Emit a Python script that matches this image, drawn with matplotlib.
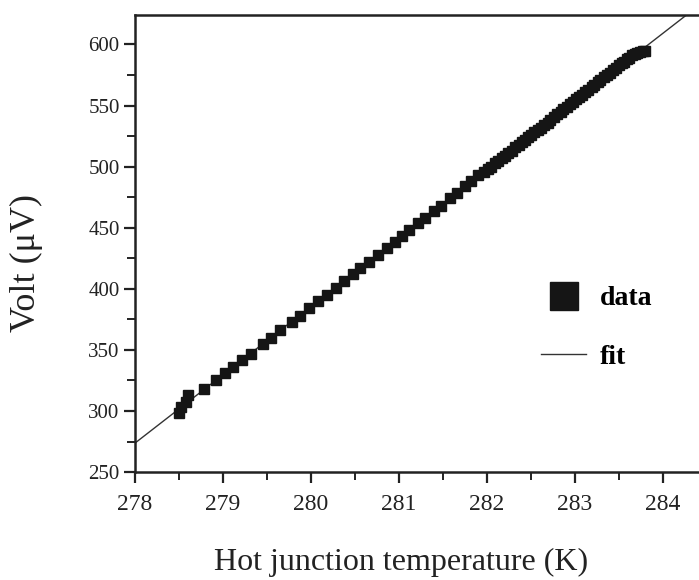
import numpy as np
import matplotlib.pyplot as plt

plt.rcParams['font.family'] = ['Liberation Serif', 'DejaVu Serif']

# measured points (hot junction temperature in K, voltage in microvolt)
temp = [278.50, 278.52, 278.58, 278.60, 278.78, 278.92, 279.02, 279.12,
        279.22, 279.32, 279.45, 279.55, 279.65, 279.78, 279.88, 279.98,
        280.08, 280.18, 280.28, 280.38, 280.48, 280.56, 280.66, 280.76,
        280.86, 280.95, 281.04, 281.12, 281.22, 281.30, 281.40, 281.48,
        281.58, 281.66, 281.75, 281.82, 281.90, 281.97, 282.01, 282.05,
        282.09, 282.13, 282.17, 282.20, 282.24, 282.28, 282.32, 282.36,
        282.40, 282.43, 282.47, 282.50, 282.54, 282.58, 282.62, 282.65,
        282.69, 282.72, 282.76, 282.80, 282.84, 282.87, 282.91, 282.94,
        282.98, 283.01, 283.05, 283.08, 283.12, 283.15, 283.19, 283.22,
        283.26, 283.29, 283.33, 283.36, 283.40, 283.43, 283.47, 283.50,
        283.53, 283.56, 283.59, 283.62, 283.65, 283.68, 283.71, 283.74,
        283.77, 283.80]
volt = [298, 303, 307, 313, 318, 325, 331, 336,
        342, 347, 355, 360, 366, 373, 378, 384,
        390, 395, 401, 406, 412, 417, 422, 428,
        433, 438, 443, 448, 454, 458, 464, 468,
        474, 478, 484, 488, 493, 496, 498, 500,
        503, 505, 507, 509, 511, 513, 516, 518,
        520, 522, 524, 526, 528, 530, 532, 534,
        536, 538, 541, 543, 545, 547, 549, 551,
        553, 555, 557, 559, 561, 563, 565, 567,
        569, 571, 573, 575, 577, 579, 581, 583,
        585, 586, 588, 589, 591, 592, 593, 594,
        595, 595]

# linear fit line
fit_t = [278.0, 284.5]
fit_v = [273.7, 273.7 + 55.9 * 6.5]

fig = plt.figure(figsize=(6.99, 5.8), dpi=100)
ax = fig.add_axes([0.193, 0.186, 0.807, 0.788])

ax.plot(fit_t, fit_v, color='#333333', lw=1.0, label='fit', zorder=2)
ax.plot(temp, volt, 's', color='#151515', ms=7.5, label='data', zorder=3)

ax.set_xlim(278, 284.41)
ax.set_ylim(250, 624)
ax.set_xticks([278, 279, 280, 281, 282, 283, 284])
ax.set_xticks(np.arange(278.5, 284.5, 1.0), minor=True)
ax.set_yticks([250, 300, 350, 400, 450, 500, 550, 600])
ax.set_yticks(np.arange(275, 625, 50), minor=True)

for s in ['left', 'bottom', 'top']:
    ax.spines[s].set_linewidth(1.8)
    ax.spines[s].set_color('#222222')
ax.spines['right'].set_visible(False)

ax.tick_params(which='major', direction='out', length=8, width=1.6,
               colors='#222222', pad=3)
ax.tick_params(which='minor', direction='out', length=6, width=1.4,
               colors='#222222')
ax.tick_params(axis='x', labelsize=17, pad=8)
ax.tick_params(axis='y', labelsize=15)

ax.set_xlabel('Hot junction temperature (K)', fontsize=23, color='#222222')
ax.xaxis.set_label_coords(0.472, -0.166)
ax.set_ylabel('Volt (\u03bcV)', fontsize=26, color='#222222')
ax.yaxis.set_label_coords(-0.163, 0.457)

h, l = ax.get_legend_handles_labels()
leg = ax.legend([h[1], h[0]], [l[1], l[0]], loc='upper left',
                bbox_to_anchor=(0.774, 0.507), bbox_transform=fig.transFigure,
                frameon=False, markerscale=2.6, borderpad=0, borderaxespad=0,
                handlelength=1.62, labelspacing=1.2, handletextpad=0.5,
                prop={'weight': 'bold', 'size': 20})

fig.savefig('out.png', dpi=100)
